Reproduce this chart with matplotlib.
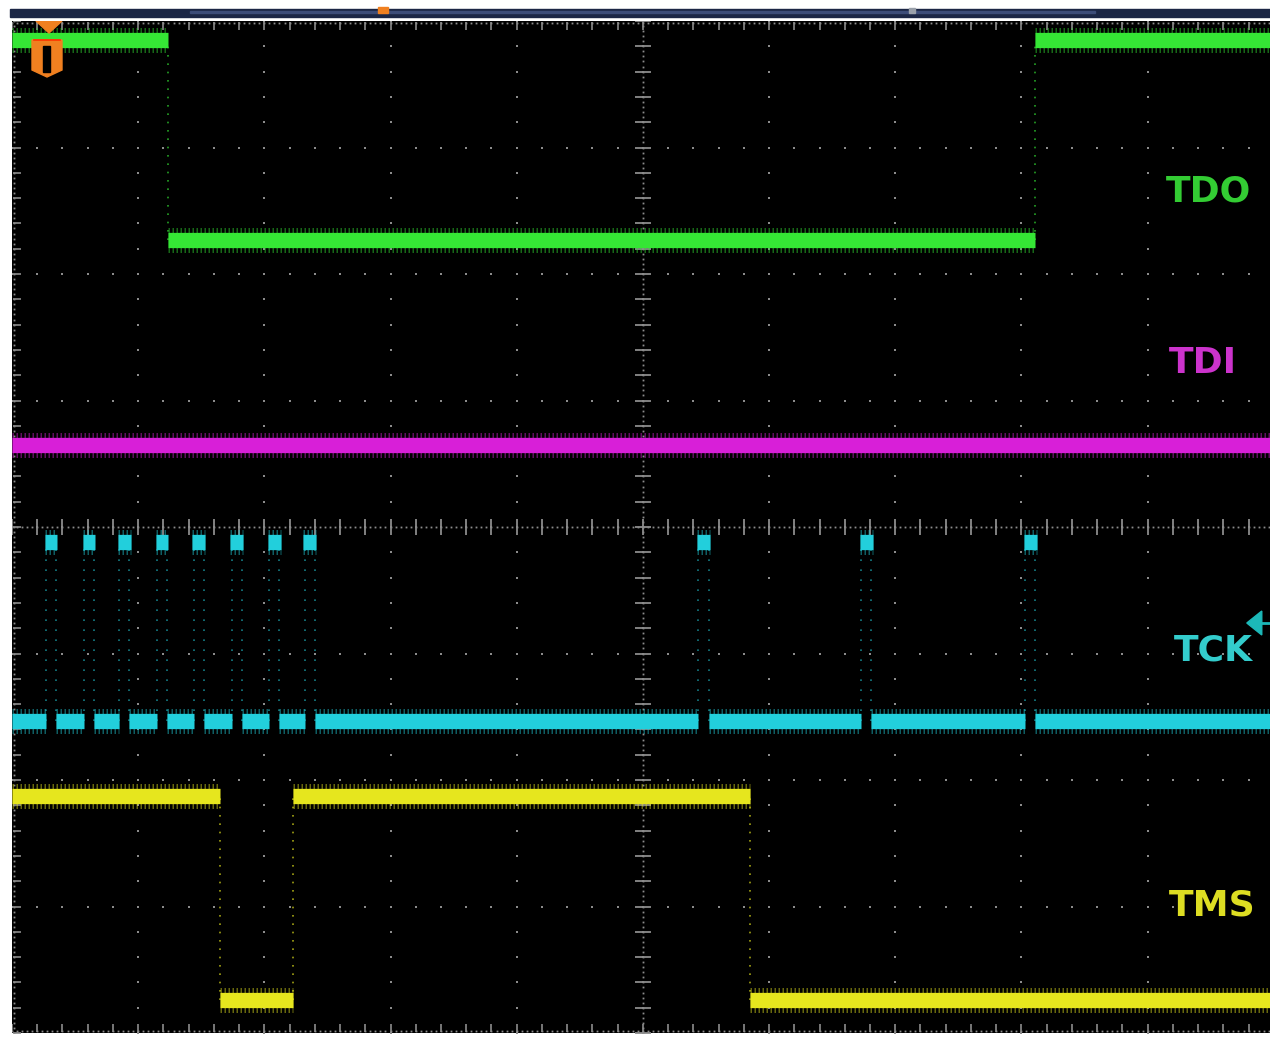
import numpy as np
import matplotlib
matplotlib.use("Agg")
import matplotlib.pyplot as plt
from matplotlib.patches import Polygon, Rectangle

# --------------------------------------------------------------
# signal data (time and level in screen divisions)
# --------------------------------------------------------------
tdo_edges = [0.0, 1.24, 8.11, 9.97]
tdo_levels = [7.85, 6.27, 7.85]

tdi_edges = [0.0, 9.97]
tdi_levels = [4.65]

tck_low, tck_high = 2.47, 3.88
tck_pulses = [0.31, 0.61, 0.89, 1.19, 1.48, 1.78, 2.08, 2.36, 5.48, 6.77, 8.07]
tck_width = 0.08

tms_edges = [0.0, 1.65, 2.23, 5.85, 9.97]
tms_levels = [1.87, 0.26, 1.87, 0.26]

labels = ["TDO", "TDI", "TCK", "TMS"]
label_x = [9.48, 9.44, 9.52, 9.51]
label_y = [6.65, 5.30, 3.02, 1.01]

trace_cols = ["#35e635", "#d81fd8", "#22cfdc", "#e6e61e"]
label_cols = ["#33cc33", "#cc33cc", "#33cccc", "#dddd22"]

W, H = 1270, 1037
fig = plt.figure(figsize=(W / 100, H / 100), dpi=100)
fig.patch.set_facecolor("white")
ax = fig.add_axes([12 / W, (H - 1033) / H, (W - 12) / W, (1033 - 21) / H])
ax.set_facecolor("black")
ax.set_xlim(0, 9.97)
ax.set_ylim(0, 8)
ax.set_xticks([])
ax.set_yticks([])
for sp in ax.spines.values():
    sp.set_visible(False)


def px(x, y):
    # screen pixel -> division coordinates
    return (x - 12) / 126.2, (1033 - y) / 126.5


# --------------------------------------------------------------
# graticule
# --------------------------------------------------------------
gc = "#8c8c8c"
steps = np.arange(0, 10.01, 0.2)
ysteps = np.arange(0, 8.01, 0.2)
for gx in range(1, 10):
    ax.plot(np.full(len(ysteps), gx), ysteps, "s", ms=1.6, color=gc, mew=0, zorder=1)
for gy in range(1, 8):
    ax.plot(steps, np.full(len(steps), gy), "s", ms=1.6, color=gc, mew=0, zorder=1)

dense_x = np.arange(0, 10.01, 0.04)
dense_y = np.arange(0, 8.01, 0.04)
# centre axes
ax.plot(np.full(len(dense_y), 5), dense_y, "s", ms=1.3, color=gc, mew=0, zorder=1)
ax.plot(dense_x, np.full(len(dense_x), 4), "s", ms=1.3, color=gc, mew=0, zorder=1)
ax.plot(np.full(len(ysteps), 5), ysteps, "_", ms=12, color=gc, mew=1.3, zorder=1)
ax.plot(steps, np.full(len(steps), 4), "|", ms=12, color=gc, mew=1.3, zorder=1)
# border rulers
ax.plot(dense_x, np.full(len(dense_x), 7.985), "s", ms=1.3, color=gc, mew=0, zorder=1)
ax.plot(steps, np.full(len(steps), 7.96), "|", ms=6, color=gc, mew=1.2, zorder=1)
ax.plot(dense_x, np.full(len(dense_x), 0.015), "s", ms=1.3, color=gc, mew=0, zorder=1)
ax.plot(steps, np.full(len(steps), 0.04), "|", ms=6, color=gc, mew=1.2, zorder=1)
ax.plot(np.full(len(dense_y), 0.015), dense_y, "s", ms=1.3, color=gc, mew=0, zorder=1)
ax.plot(np.full(len(ysteps), 0.04), ysteps, "_", ms=6, color=gc, mew=1.2, zorder=1)


# --------------------------------------------------------------
# traces
# --------------------------------------------------------------
def band(y, x0, x1, col, lw=11):
    # fine hatched halo gives the noisy look of the scope trace
    ax.hlines(y, x0, x1, colors=col, lw=lw + 7, alpha=0.45, linestyles=(0, (0.06, 0.1)),
              capstyle="butt", zorder=3)
    ax.hlines(y, x0, x1, colors=col, lw=lw, capstyle="butt", zorder=4)


def step_signal(edges, levels, col):
    for i, lvl in enumerate(levels):
        band(lvl, edges[i], edges[i + 1], col)
    for i in range(1, len(levels)):
        lo, hi = sorted([levels[i - 1], levels[i]])
        ax.vlines(edges[i], lo, hi, colors=col, lw=1.2, linestyles=(0, (1, 4)), alpha=0.7, zorder=3)


step_signal(tdo_edges, tdo_levels, trace_cols[0])
step_signal(tdi_edges, tdi_levels, trace_cols[1])
step_signal(tms_edges, tms_levels, trace_cols[3])

# TCK: low segments with gaps at each pulse, small blobs at high level
starts = [0.0] + [p + tck_width / 2 for p in tck_pulses]
ends = [p - tck_width / 2 for p in tck_pulses] + [9.97]
for s, e in zip(starts, ends):
    band(tck_low, s, e, trace_cols[2])
for p in tck_pulses:
    band(tck_high, p - tck_width / 2 - 0.01, p + tck_width / 2 + 0.01, trace_cols[2], lw=11)
    ax.vlines([p - tck_width / 2, p + tck_width / 2], tck_low, tck_high, colors=trace_cols[2],
              lw=1.2, linestyles=(0, (1, 5)), alpha=0.6, zorder=3)

for txt, x, y, c in zip(labels, label_x, label_y, label_cols):
    ax.text(x, y, txt, color=c, fontsize=26, fontweight="bold", ha="center", va="center", zorder=6)

# --------------------------------------------------------------
# scope markers
# --------------------------------------------------------------
orange = "#f08020"
ax.add_patch(Polygon([px(36, 21), px(62, 21), px(49, 33)], closed=True, color=orange, zorder=7))
ax.add_patch(Polygon([px(32, 40), px(62, 40), px(62, 70), px(47, 77), px(32, 70)],
                     closed=True, color=orange, zorder=7))
x0, y0 = px(43, 72)
x1, y1 = px(50, 46)
ax.add_patch(Rectangle((x0, y0), x1 - x0, y1 - y0, color="black", zorder=8))
a, b = px(34, 40)
c, d = px(60, 40)
ax.plot([a, c], [b, d], color="#ff3300", lw=1.2, zorder=8)

ax.add_patch(Polygon([px(1247, 623), px(1262, 611), px(1262, 635)], closed=True,
                     color="#1cb8b8", zorder=7))
a, b = px(1260, 623)
c, d = px(1272, 623)
ax.plot([a, c], [b, d], color="#1cb8b8", lw=2, zorder=7)

# top status strip
fig.add_artist(Rectangle((10 / W, 1 - 17 / H), 1260 / W, 8 / H, transform=fig.transFigure,
                         color="#1b2645", zorder=0))
fig.add_artist(Rectangle((190 / W, 1 - 13 / H), 905 / W, 2 / H, transform=fig.transFigure,
                         color="#3c4c78", zorder=1))
fig.add_artist(Rectangle((378 / W, 1 - 13 / H), 10 / W, 6 / H, transform=fig.transFigure,
                         color=orange, zorder=2))
fig.add_artist(Rectangle((909 / W, 1 - 13 / H), 6 / W, 5 / H, transform=fig.transFigure,
                         color="#9aa0aa", zorder=2))

fig.savefig("out.png", dpi=100, facecolor=fig.get_facecolor())
